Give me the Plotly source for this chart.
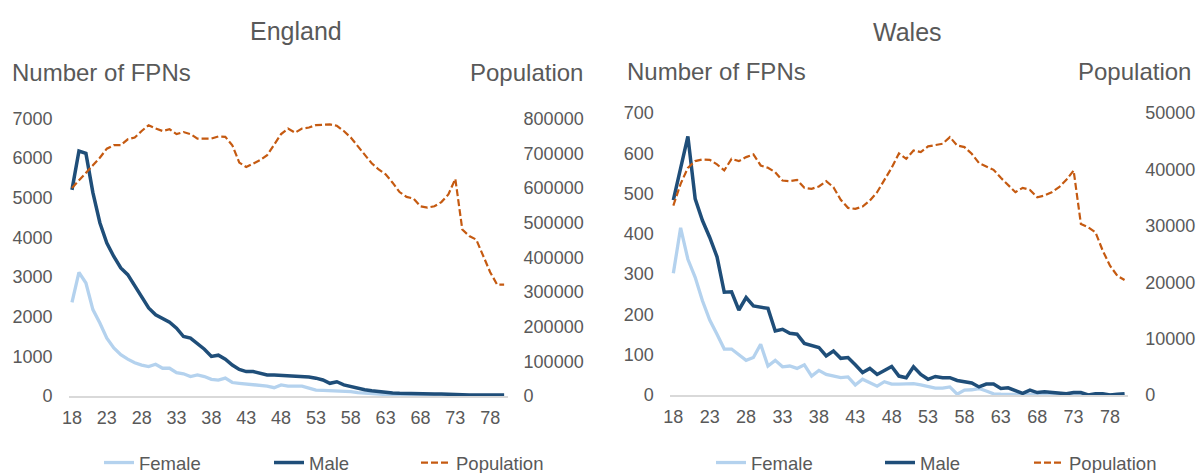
import plotly.graph_objects as go
from plotly.subplots import make_subplots

ages = list(range(18, 81))
age_ticks = list(range(18, 81, 5))

eng_female = [2360, 3120, 2850, 2180, 1840, 1460, 1210, 1040, 930, 840,
              780, 740, 800, 700, 700, 590, 560, 490, 530, 490,
              420, 400, 450, 340, 320, 300, 295, 280, 250, 210,
              280, 250, 245, 250, 200, 150, 140, 135, 135, 130,
              110, 85, 70, 55, 45, 35, 25, 20, 15, 12,
              10, 8, 7, 6, 5, 5, 4, 3, 3, 2,
              2, 2, 2]
eng_male = [5200, 6180, 6120, 5130, 4370, 3860, 3520, 3230, 3060, 2770,
            2470, 2220, 2050, 1960, 1860, 1710, 1500, 1460, 1330, 1180,
            1000, 1030, 930, 780, 670, 615, 615, 570, 530, 530,
            520, 510, 500, 500, 480, 450, 405, 320, 360, 280,
            236, 194, 160, 130, 105, 90, 75, 67, 60, 51,
            51, 51, 51, 51, 51, 45, 30, 25, 25, 25,
            25, 5, 25]
eng_pop = [600000, 622700, 643900, 665000, 687000, 713000, 723000, 723000, 740000, 745000,
           764000, 780700, 771000, 764000, 769000, 755000, 761000, 755000, 742000, 742000,
           742000, 748000, 747000, 723000, 673000, 660000, 671000, 680000, 694000, 723000,
           755000, 771000, 759000, 771000, 774000, 781000, 783000, 783000, 779000, 764000,
           745000, 721000, 697000, 671000, 653000, 639000, 615000, 588000, 574000, 569000,
           547000, 543000, 547000, 559000, 581000, 626000, 480000, 461000, 451000, 403000,
           357000, 321000, 321000]

wal_female = [302, 415, 337, 292, 234, 186, 151, 114, 114, 101,
              86, 93, 126, 72, 86, 70, 72, 66, 75, 47,
              61, 51, 47, 43, 45, 25, 39, 31, 22, 33,
              27, 27, 28, 28, 25, 22, 17, 17, 20, 2,
              12, 13, 16, 10, 3, 2, 2, 1, 1, 1,
              1, 1, 1, 1, 1, 1, 0, 0, 0, 0,
              0, 0, 0]
wal_male = [484, 565, 642, 487, 433, 391, 343, 255, 256, 211,
            242, 221, 219, 215, 159, 163, 153, 151, 128, 124,
            118, 97, 109, 91, 93, 75, 56, 66, 51, 61,
            71, 47, 43, 70, 51, 39, 46, 43, 43, 36,
            33, 30, 20, 27, 27, 16, 18, 12, 4, 12,
            6, 8, 6, 3, 3, 6, 6, 0, 3, 3,
            0, 2, 3]
wal_pop = [33590, 37440, 40280, 41470, 41770, 41700, 40880, 39810, 41880, 41470,
           42180, 42650, 40700, 40280, 39510, 38030, 37910, 38150, 36730, 36550,
           36970, 37910, 36850, 34600, 33180, 33000, 33410, 34480, 35960, 38030,
           40300, 42830, 41880, 43360, 43070, 44080, 44250, 44550, 45730, 44250,
           43960, 42770, 41110, 40520, 39930, 38510, 37150, 35960, 36730, 36370,
           35070, 35370, 35960, 36850, 38150, 39810, 30330, 29740, 28850, 25590,
           22930, 21150, 20380]

W, H = 1198, 473
GREY = "#595959"
FONT = "Liberation Sans, Arial, sans-serif"
C_FEMALE = "#B4D2EE"
C_MALE = "#1F4E79"
C_POP = "#C55A11"

def px(x):
    return x / W

def py(y):
    return 1 - y / H

fig = make_subplots(rows=1, cols=2, specs=[[{"secondary_y": True}, {"secondary_y": True}]])

panels = [
    (1, eng_female, eng_male, eng_pop, ["legend", "legend2", "legend3"]),
    (2, wal_female, wal_male, wal_pop, ["legend4", "legend5", "legend6"]),
]
for col, fem, mal, pop, lg in panels:
    fig.add_trace(go.Scatter(x=ages, y=fem, mode="lines", name="Female", showlegend=True,
                             line=dict(color=C_FEMALE, width=3.3), legend=lg[0]),
                  row=1, col=col, secondary_y=False)
    fig.add_trace(go.Scatter(x=ages, y=mal, mode="lines", name="Male", showlegend=True,
                             line=dict(color=C_MALE, width=3.5), legend=lg[1]),
                  row=1, col=col, secondary_y=False)
    fig.add_trace(go.Scatter(x=ages, y=pop, mode="lines", name="Population", showlegend=True,
                             line=dict(color=C_POP, width=2.2, dash="7px,3px"), legend=lg[2]),
                  row=1, col=col, secondary_y=True)

tickfont = dict(family=FONT, size=18, color=GREY)
xcommon = dict(range=[17.5, 80.5], tickvals=age_ticks, showgrid=False, zeroline=False,
               showline=True, linecolor="#D9D9D9", linewidth=1.5, ticks="",
               tickfont=tickfont, ticklabelstandoff=5, automargin=False)
ycommon = dict(showgrid=False, zeroline=False, showline=False, ticks="", tickfont=tickfont,
               tickformat="d", automargin=False)

fig.update_layout(
    xaxis=dict(domain=[px(68.5), px(507.6)], **xcommon),
    xaxis2=dict(domain=[px(669.7), px(1128.2)], **xcommon),
    yaxis=dict(domain=[py(396), py(118.5)], range=[0, 7000], dtick=1000,
               ticklabelstandoff=15, **ycommon),
    yaxis2=dict(domain=[py(396), py(118.5)], range=[0, 800000], dtick=100000,
                ticklabelstandoff=15, **ycommon),
    yaxis3=dict(domain=[py(395), py(113)], range=[0, 700], dtick=100,
                ticklabelstandoff=15, **ycommon),
    yaxis4=dict(domain=[py(395), py(113)], range=[0, 50000], dtick=10000,
                ticklabelstandoff=16, **ycommon),
)

# legends: one per item so each entry sits where the reference has it
text_starts = [141, 311, 458, 753, 922, 1071]
leg_names = ["legend", "legend2", "legend3", "legend4", "legend5", "legend6"]
for name, xs in zip(leg_names, text_starts):
    fig.update_layout({name: dict(orientation="h", x=px(xs - 42), xanchor="left",
                                  y=py(463), yanchor="middle", visible=True,
                                  font=dict(family=FONT, size=18.5, color=GREY),
                                  bgcolor="rgba(0,0,0,0)", borderwidth=0)})

ann = [
    ("England", 296, 31, "center", 25),
    ("Number of FPNs", 10, 73, "left", 24),
    ("Population", 585, 73, "right", 24),
    ("Wales", 907, 32, "center", 25),
    ("Number of FPNs", 625, 72, "left", 24),
    ("Population", 1193, 72, "right", 24),
]
for text, x, y, anchor, size in ann:
    fig.add_annotation(text=text, x=px(x), y=py(y), xref="paper", yref="paper",
                       xanchor=anchor, yanchor="middle", showarrow=False,
                       font=dict(family=FONT, size=size, color=GREY))

fig.update_layout(width=W, height=H, showlegend=True,
                  margin=dict(l=0, r=0, t=0, b=0, pad=0, autoexpand=False),
                  paper_bgcolor="white", plot_bgcolor="white",
                  font=dict(family=FONT, color=GREY))

# remove the page's default 8px body margin so the figure fills the window exactly
fig.write_html("out.html", config={"displayModeBar": False},
               post_script="document.body.style.margin='0';document.body.style.overflow='hidden';")
